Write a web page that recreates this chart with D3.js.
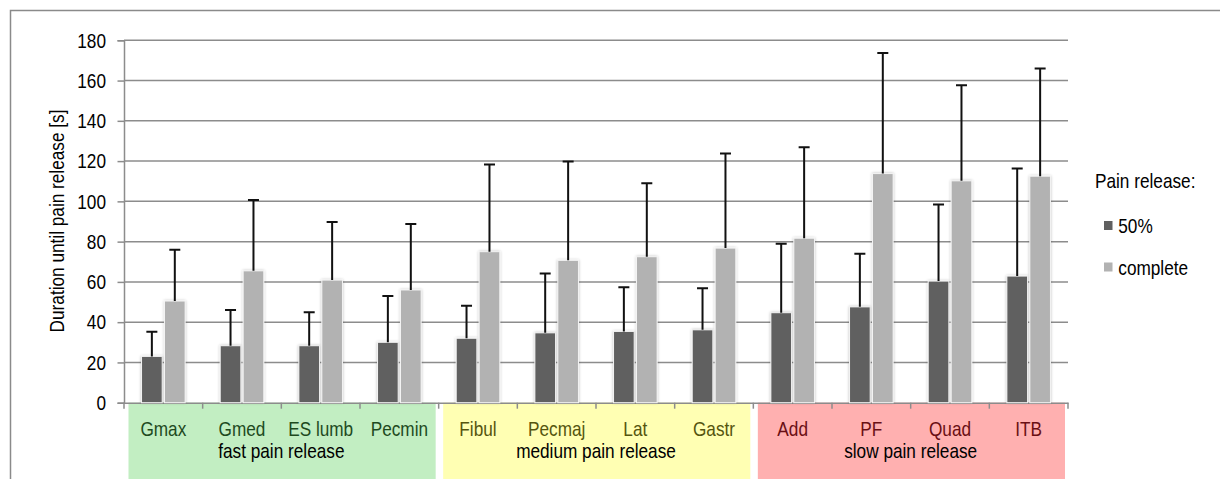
<!DOCTYPE html>
<html><head><meta charset="utf-8">
<script src="https://cdn.jsdelivr.net/npm/d3@7"></script>
<style>
body{margin:0;background:#fff;}
text{font-family:"Liberation Sans",Arial,sans-serif;}
</style></head>
<body><svg id="c" width="1220" height="479"></svg>
<script>
const categories = ["Gmax","Gmed","ES lumb","Pecmin","Fibul","Pecmaj","Lat","Gastr","Add","PF","Quad","ITB"];
const groups = ["fast pain release","medium pain release","slow pain release"];
const groupOf = [0,0,0,0,1,1,1,1,2,2,2,2];
const series = ["50%","complete"];
const half = [23,28.3,28.3,30,32,34.7,35.4,36.2,44.7,47.6,60.4,62.9];
const halfErr = [35.2,46,44.9,53,48.1,64.2,57.3,56.9,78.9,74,98.5,116.3];
const complete = [50.5,65.5,60.9,56,75,70.7,72.5,76.8,81.7,113.8,110.2,112.5];
const completeErr = [76,100.7,89.8,88.7,118.3,119.8,109,123.8,126.9,173.7,157.7,166];
const yTicks = [0,20,40,60,80,100,120,140,160,180];
const yTitle = "Duration until pain release [s]";
const legendTitle = "Pain release:";

const svg = d3.select("#c");
const L = 124, R = 1068, T = 40.3, B = 402.7;
const FS = 21, NARROW = 0.82;
const barColors = ["#606060","#b2b2b2"];
const groupBg = ["#c2eec2","#ffffb3","#ffb0b0"];
const catColor = ["#1e4a1e","#55550f","#6a0f14"];

// narrow text helper: places text at (x,y) with optional rotation, condensed horizontally
function narrow(sel, fx, fy, rot){
  return sel.attr("transform",(d,i)=>`translate(${fx(d,i)},${fy(d,i)}) rotate(${rot||0}) scale(${NARROW},1)`)
    .attr("font-size",FS);
}

const defs = svg.append("defs");
const f = defs.append("filter").attr("id","sh").attr("x","-30%").attr("y","-10%").attr("width","160%").attr("height","120%");
f.append("feGaussianBlur").attr("in","SourceAlpha").attr("stdDeviation",1.6).attr("result","b");
f.append("feComponentTransfer").attr("in","b").attr("result","o2").append("feFuncA").attr("type","linear").attr("slope",0.25);
const m = f.append("feMerge"); m.append("feMergeNode").attr("in","o2"); m.append("feMergeNode").attr("in","SourceGraphic");

// frame
svg.append("path").attr("d","M10.5,480 L10.5,10.5 L1222,10.5").attr("fill","none").attr("stroke","#8a8a8a").attr("stroke-width",1.5);

const x = d3.scaleBand().domain(categories).range([L,R]);
const y = d3.scaleLinear().domain([0,180]).range([B,T]);
const xs = d3.scaleBand().domain(series).range([-21.8,21.8]).paddingInner(0.1);

// group backgrounds
const gExt = groups.map((g,i)=>{
  const cs = categories.filter((c,j)=>groupOf[j]===i);
  return [x(cs[0]), x(cs[cs.length-1])+x.bandwidth()];
});
svg.selectAll("rect.gbg").data(groups).join("rect").attr("class","gbg")
  .attr("x",(d,i)=>gExt[i][0]+4.5).attr("width",(d,i)=>gExt[i][1]-gExt[i][0]-7.5)
  .attr("y",B).attr("height",90).attr("fill",(d,i)=>groupBg[i]);

// gridlines
svg.selectAll("line.grid").data(yTicks.slice(1)).join("line")
  .attr("x1",L).attr("x2",R).attr("y1",d=>y(d)).attr("y2",d=>y(d))
  .attr("stroke","#8c8c8c").attr("stroke-width",1.5);

// y axis
const ya = svg.append("g").attr("transform",`translate(${L},0)`)
  .call(d3.axisLeft(y).tickValues(yTicks).tickSize(6.5).tickFormat(""));
ya.select(".domain").attr("stroke","#8c8c8c").attr("stroke-width",1.5);
ya.selectAll(".tick line").attr("stroke","#8c8c8c").attr("stroke-width",1.5);
narrow(svg.selectAll("text.yl").data(yTicks).join("text").attr("class","yl"),
  d=>106, d=>y(d)+7.3).attr("text-anchor","end").attr("fill","#000").text(d=>d);

// x axis line and ticks
const xa = svg.append("g").attr("transform",`translate(0,${B})`)
  .call(d3.axisBottom(x).tickSize(0).tickFormat(""));
xa.select(".domain").attr("stroke","#8c8c8c").attr("stroke-width",1.5);
const bounds = categories.map(c=>x(c)).concat([R]);
svg.selectAll("line.xt").data(bounds).join("line")
  .attr("x1",d=>d).attr("x2",d=>d).attr("y1",B).attr("y2",B+6)
  .attr("stroke","#8c8c8c").attr("stroke-width",1.5);

// bars
const data = categories.map((c,i)=>({c, vals:[{s:series[0],v:half[i],e:halfErr[i]},{s:series[1],v:complete[i],e:completeErr[i]}]}));
const cg = svg.selectAll("g.cat").data(data).join("g").attr("class","cat")
  .attr("transform",d=>`translate(${x(d.c)+x.bandwidth()/2},0)`);
cg.selectAll("rect").data(d=>d.vals).join("rect")
  .attr("x",d=>xs(d.s)).attr("width",xs.bandwidth())
  .attr("y",d=>y(d.v)).attr("height",d=>B-y(d.v))
  .attr("fill",(d,i)=>barColors[i]).attr("stroke","#f4f4f4").attr("stroke-width",1)
  .attr("filter","url(#sh)");
// error bars
cg.selectAll("path.err").data(d=>d.vals).join("path").attr("class","err")
  .attr("d",d=>{const cx=xs(d.s)+xs.bandwidth()/2; return `M${cx},${y(d.v)} V${y(d.e)} M${cx-5.5},${y(d.e)} H${cx+5.5}`;})
  .attr("fill","none").attr("stroke","#111").attr("stroke-width",2);

// category labels
narrow(svg.selectAll("text.cl").data(categories).join("text").attr("class","cl"),
  d=>x(d)+x.bandwidth()/2, d=>436).attr("text-anchor","middle")
  .attr("fill",(d,i)=>catColor[groupOf[i]]).text(d=>d);
// group labels
narrow(svg.selectAll("text.gl").data(groups).join("text").attr("class","gl"),
  (d,i)=>(gExt[i][0]+gExt[i][1])/2, d=>458).attr("text-anchor","middle")
  .attr("fill","#000").text(d=>d);

// y title
narrow(svg.selectAll("text.yt").data([yTitle]).join("text").attr("class","yt"),
  d=>64, d=>221, -90).attr("text-anchor","middle").attr("fill","#000").text(d=>d);

// legend
narrow(svg.selectAll("text.lt").data([legendTitle]).join("text").attr("class","lt"),
  d=>1095, d=>188).attr("fill","#000").text(d=>d);
const lg = svg.selectAll("g.lg").data(series).join("g").attr("class","lg")
  .attr("transform",(d,i)=>`translate(1104,${221+i*41.5})`);
lg.append("rect").attr("width",8.5).attr("height",9).attr("fill",(d,i)=>barColors[i]);
narrow(lg.append("text"), d=>14.3, d=>12).attr("fill","#000").text(d=>d);
</script></body></html>
